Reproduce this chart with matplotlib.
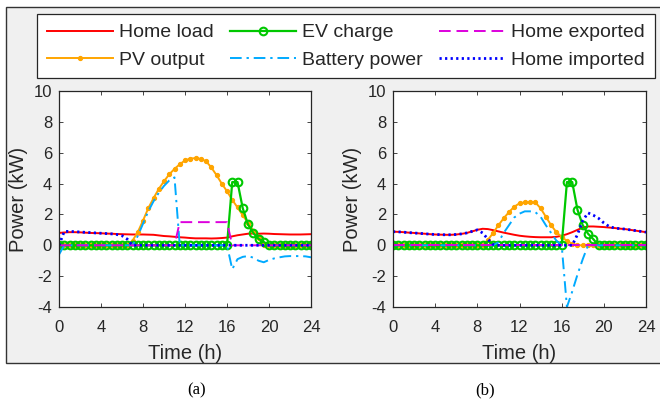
import numpy as np
import matplotlib
matplotlib.use("Agg")
import matplotlib.pyplot as plt
from matplotlib.patches import Rectangle

plt.rcParams['font.family'] = ['Liberation Sans', 'DejaVu Sans']
plt.rcParams['axes.unicode_minus'] = False

# Half-hourly time grid (h)
hours = np.arange(0, 24.5, 0.5)

# ---------------- Case (a) ----------------
load_a = [0.80, 0.83, 0.85, 0.85, 0.84, 0.82, 0.80, 0.79, 0.78, 0.76,
          0.75, 0.73, 0.72, 0.71, 0.70, 0.70, 0.70, 0.69, 0.68, 0.64,
          0.60, 0.58, 0.55, 0.52, 0.50, 0.47, 0.45, 0.45, 0.45, 0.44,
          0.45, 0.47, 0.50, 0.58, 0.65, 0.70, 0.75, 0.76, 0.75, 0.76,
          0.75, 0.73, 0.72, 0.71, 0.70, 0.70, 0.70, 0.71, 0.72]
pv_a = [0] * 13 + [0.0, 0.3, 0.85, 1.6, 2.4, 3.05, 3.65, 4.15, 4.6, 4.95,
                   5.25, 5.5, 5.62, 5.65, 5.6, 5.45, 5.05, 4.55, 4.0, 3.5,
                   2.95, 2.45, 1.95, 1.45, 0.95, 0.45, 0.0] + [0] * 9
ev_a = [0] * 33 + [4.1, 4.1, 2.4, 1.35, 0.8, 0.42, 0.22] + [0] * 9
batt_a = [-0.6] + [0] * 13 + [0.0, 0.6, 1.4, 2.2, 2.85, 3.4, 3.85, 4.2, 4.4, 0.0] \
         + [0] * 9 + [-1.55, -0.9, -0.75, -0.7, -0.8, -1.0, -1.1, -0.95,
                      -0.85, -0.78, -0.72, -0.7, -0.7, -0.7, -0.72, -0.78]
exp_a = [0] * 23 + [1.5] * 10 + [0] * 16
imp_a = [0.0, 0.9, 0.9, 0.88, 0.86, 0.84, 0.82, 0.8, 0.78, 0.76,
         0.74, 0.7, 0.62, 0.4, 0.0] + [0] * 34

# ---------------- Case (b) ----------------
load_b = [0.88, 0.87, 0.85, 0.82, 0.80, 0.77, 0.75, 0.72, 0.70, 0.69,
          0.68, 0.68, 0.70, 0.74, 0.80, 0.90, 1.00, 1.07, 1.05, 0.98,
          0.90, 0.82, 0.75, 0.68, 0.62, 0.58, 0.55, 0.53, 0.52, 0.52,
          0.52, 0.55, 0.62, 0.72, 0.85, 1.00, 1.15, 1.22, 1.22, 1.20,
          1.18, 1.15, 1.12, 1.08, 1.05, 1.00, 0.95, 0.90, 0.85]
pv_b = [0] * 18 + [0.35, 0.8, 1.3, 1.75, 2.15, 2.5, 2.72, 2.78, 2.78, 2.78,
                   2.4, 1.85, 1.3, 0.85, 0.55, 0.28, 0.1, 0.0] + [0] * 13
ev_b = [0] * 33 + [4.1, 4.1, 2.3, 1.3, 0.75, 0.4, 0.0] + [0] * 9
batt_b = [0] * 20 + [0.2, 0.8, 1.3, 1.8, 2.05, 2.2, 2.2, 2.15, 1.85, 1.3,
                     0.8, 0.3, 0.0, -4.0, -3.0, -1.9, -0.9, 0.0] + [0] * 11
exp_b = [0] * 49
imp_b = [0.88, 0.87, 0.85, 0.82, 0.80, 0.77, 0.75, 0.72, 0.70, 0.69,
         0.68, 0.68, 0.70, 0.74, 0.80, 0.90, 1.00, 0.8, 0.4, 0.05] + [0] * 15 \
        + [0.7, 1.6, 2.1, 1.95, 1.75, 1.45, 1.22, 1.12, 1.08, 1.05,
           1.0, 0.95, 0.9, 0.85]

series_names = ["Home load", "PV output", "EV charge",
                "Battery power", "Home exported", "Home imported"]
x_ticks = [0, 4, 8, 12, 16, 20, 24]
y_ticks = [-4, -2, 0, 2, 4, 6, 8, 10]
panel_tags = ["(a)", "(b)"]

C_RED = "#ff0000"
C_ORANGE = "#ffa500"
C_GREEN = "#00c800"
C_CYAN = "#00aaff"
C_MAG = "#dd00dd"
C_BLUE = "#0000ff"

fig = plt.figure(figsize=(6.60, 4.01), dpi=100)
fig.patch.set_facecolor("white")

# grey figure panel with border, kept behind the axes
fig.patches.append(Rectangle((6 / 660, 1 - 363 / 401), 660 / 660, 356 / 401,
                             transform=fig.transFigure, facecolor="#f0f0f0",
                             edgecolor="#333333", linewidth=1.0, zorder=-5))

axes_pos = [[59 / 660, 1 - 307 / 401, 252 / 660, 216 / 401],
            [393 / 660, 1 - 307 / 401, 253 / 660, 216 / 401]]
tag_x = [197 / 660, 485 / 660]

data = [(load_a, pv_a, ev_a, batt_a, exp_a, imp_a),
        (load_b, pv_b, ev_b, batt_b, exp_b, imp_b)]

handles = None
for k, (pos, d) in enumerate(zip(axes_pos, data)):
    ax = fig.add_axes(pos)
    ax.set_zorder(1)
    load, pv, ev, batt, exp_, imp = d
    h1, = ax.plot(hours, load, color=C_RED, lw=1.4)
    h2, = ax.plot(hours, pv, color=C_ORANGE, lw=1.4, marker='o', ms=2.8,
                  mfc=C_ORANGE, mec=C_ORANGE)
    h3, = ax.plot(hours, ev, color=C_GREEN, lw=1.6, marker='o', ms=5.5,
                  mfc='none', mec=C_GREEN, mew=1.5)
    h4, = ax.plot(hours, batt, color=C_CYAN, lw=1.4, linestyle=(0, (6, 2.5, 1.2, 2.5)))
    h5, = ax.plot(hours, exp_, color=C_MAG, lw=1.4, linestyle=(0, (6, 3)))
    h6, = ax.plot(hours, imp, color=C_BLUE, lw=2.0, linestyle=(0, (0.8, 1.2)))
    handles = [h1, h2, h3, h4, h5, h6]

    ax.set_xlim(0, 24)
    ax.set_ylim(-4, 10)
    ax.set_xticks(x_ticks)
    ax.set_yticks(y_ticks)
    ax.tick_params(direction='in', length=3, width=0.6, colors='#262626',
                   labelsize=12, top=True, right=True, pad=5)
    ax.tick_params(axis='x', pad=9)
    for sp in ax.spines.values():
        sp.set_color('#262626')
        sp.set_linewidth(0.9)
    ax.set_facecolor('white')
    ax.set_xlabel("Time (h)", fontsize=14.5, color='#262626', va='center')
    ax.xaxis.set_label_coords(0.5, -0.213)
    ax.set_ylabel("Power (kW)", fontsize=14.5, color='#262626', va='center')
    ax.yaxis.set_label_coords(-0.16, 0.5)

    fig.text(tag_x[k], 1 - 390 / 401, panel_tags[k], ha='center', va='center',
             fontsize=12, family=['Liberation Serif', 'DejaVu Serif'])

leg = fig.legend(handles, series_names, ncol=3, loc='upper left',
                 bbox_to_anchor=(37 / 660, 1 - 14 / 401), borderaxespad=0,
                 fontsize=14, handlelength=3.4, handletextpad=0.3,
                 columnspacing=0.85, labelspacing=0.5, borderpad=0.5,
                 frameon=True, fancybox=False, framealpha=1.0)
leg.get_frame().set_edgecolor('#262626')
leg.get_frame().set_facecolor('white')
leg.get_frame().set_linewidth(0.9)
leg.set_zorder(2)
for t in leg.get_texts():
    t.set_color('#262626')

fig.savefig("out.png", dpi=100)
